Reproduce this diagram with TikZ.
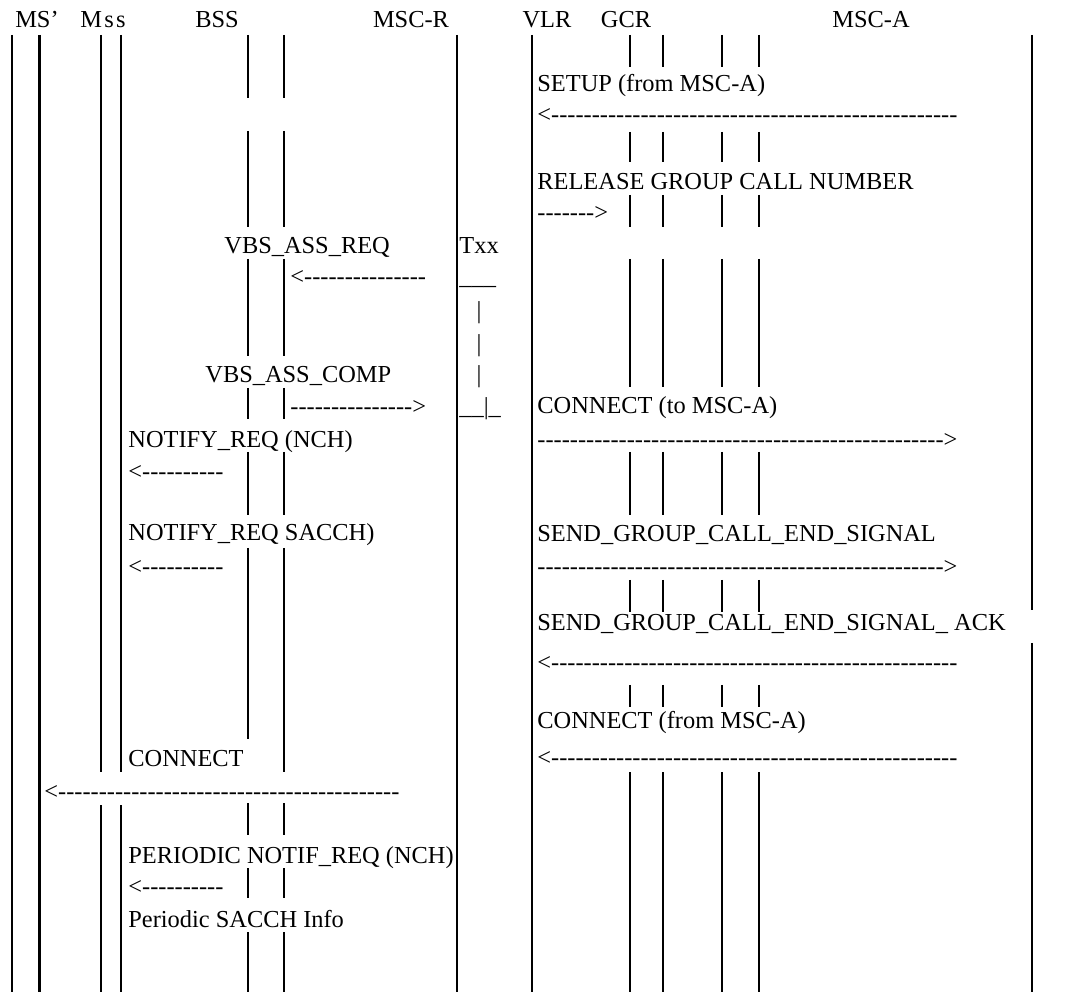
\documentclass[tikz,border=0pt]{standalone}
\usepackage{fontspec}
\setmainfont{Liberation Serif}
\newcommand{\msgfont}{\fontsize{12.2}{14}\selectfont}
\newcommand{\hy}[1]{\foreach \k in {1,...,#1}{-\kern0pt}}
\newcommand{\larr}[1]{<\hy{#1}}
\newcommand{\rarr}[1]{\hy{#1}>}

\begin{document}
\begin{tikzpicture}[x=0.5pt, y=-0.5pt,
    every node/.style={font=\msgfont, inner sep=0pt, anchor=base west},
    life/.style={line width=1pt}]
    \useasboundingbox (0,0) rectangle (1072,994);
    % entity names
    \node[anchor=base] (hms) at (37,28) {MS’};
    \node[anchor=base] (hmss) at (103,28) {M\kern1.2pt s\kern1.2pt s};
    \node[anchor=base] (hbss) at (217,28) {BSS};
    \node[anchor=base] (hmscr) at (411,28) {MSC-R};
    \node[anchor=base] (hvlr) at (547,28) {VLR};
    \node[anchor=base] (hgcr) at (626,28) {GCR};
    \node[anchor=base] (hmsca) at (871,28) {MSC-A};
    % life lines
    \foreach \x in {12,457,532} \draw[life] (\x,35) -- (\x,992);
    \draw[line width=1.5pt] (39,35) -- (39,992);
    \foreach \x in {101,121} {
        \draw[life] (\x,35) -- (\x,772);
        \draw[life] (\x,805) -- (\x,992);
    }
    \foreach \x in {248,284}
        \foreach \a/\b in {35/98,131/227,259/356,388/419,452/515,548/739,803/835,868/898,932/992}
            \draw[life] (\x,\a) -- (\x,\b);
    \draw[life] (284,739) -- (284,772);
    \foreach \x in {630,663,722,759}
        \foreach \a/\b in {35/67,132/162,195/227,259/387,452/515,580/612,685/707,772/992}
            \draw[life] (\x,\a) -- (\x,\b);
    \draw[life] (1032,35) -- (1032,610);
    \draw[life] (1032,643) -- (1032,992);
    % VLR / GCR / MSC-A messages
    \node (msetup) at (537,92) {SETUP (from MSC-A)};
    \node (asetup) at (537,123) {\larr{50}};
    \node (mrel) at (537,190) {RELEASE GROUP CALL NUMBER};
    \node (arel) at (537,221) {\rarr{7}};
    \node (mconto) at (537,414) {CONNECT (to MSC-A)};
    \node (aconto) at (537,448) {\rarr{50}};
    \node (mend) at (537,542) {SEND\_GROUP\_CALL\_END\_SIGNAL};
    \node (aend) at (537,575) {\rarr{50}};
    \node (mack) at (537,631) {SEND\_GROUP\_CALL\_END\_SIGNAL\_ ACK};
    \node (aack) at (537,670) {\larr{50}};
    \node (mconfr) at (537,728) {CONNECT (from MSC-A)};
    \node (aconfr) at (537,765) {\larr{50}};
    % BSS / MSC-R messages
    \node (mreq) at (224,254) {VBS\_ASS\_REQ};
    \node (areq) at (290,285) {\larr{15}};
    \node (mcomp) at (205,383) {VBS\_ASS\_COMP};
    \node (acomp) at (290,415) {\rarr{15}};
    % timer Txx
    \node (txx) at (459,254) {Txx};
    \node (tstart) at (459,285) {\_\_\_};
    \node[anchor=base] (tbar1) at (479,319) {|};
    \node[anchor=base] (tbar2) at (479,352) {|};
    \node[anchor=base] (tbar3) at (479,383) {|};
    \node (tstop) at (459,415) {\_\_|\_};
    % MS messages
    \node (mnch) at (128,448) {NOTIFY\_REQ (NCH)};
    \node (anch) at (128,480) {\larr{10}};
    \node (msacch) at (128,541) {NOTIFY\_REQ SACCH)};
    \node (asacch) at (128,575) {\larr{10}};
    \node (mcon) at (128,767) {CONNECT};
    \node (acon) at (44,799) {\larr{42}};
    \node (mper) at (128,863) {PERIODIC NOTIF\_REQ (NCH)};
    \node (aper) at (128,894) {\larr{10}};
    \node (minfo) at (128,927) {Periodic SACCH Info};
\end{tikzpicture}
\end{document}
